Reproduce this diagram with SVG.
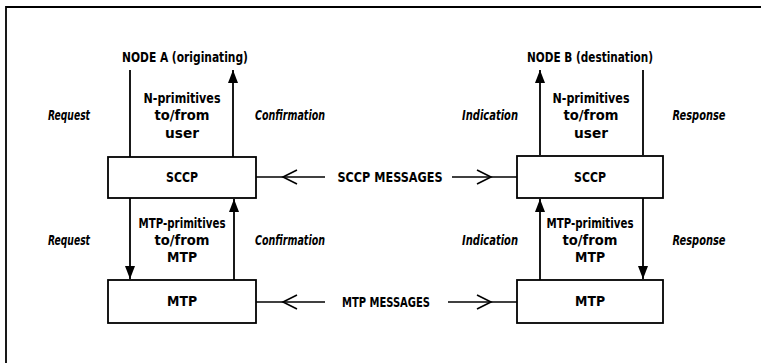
<svg xmlns="http://www.w3.org/2000/svg" width="761" height="363" viewBox="0 0 761 363">
<defs>
<style>
.t{font-family:"DejaVu Sans Condensed","DejaVu Sans",sans-serif;font-weight:bold;font-size:14px;fill:#000;text-anchor:middle}
.i{font-style:italic}
.box{fill:#fff;stroke:#000;stroke-width:1.8}
.ln{fill:none;stroke:#000;stroke-width:1.8}
.msg{fill:none;stroke:#000;stroke-width:1.6}
</style>
<marker id="ah" markerUnits="userSpaceOnUse" markerWidth="14" markerHeight="11" refX="13" refY="5" orient="auto">
<path d="M0,0 L13,5 L0,10 z" fill="#000"/>
</marker>
</defs>
<rect x="0" y="0" width="761" height="363" fill="#fff"/>
<g id="frame">
<path class="ln" d="M6,363 L6,7 L761,7" stroke-width="2"/>
</g>

<g id="connectors">
<path class="ln" d="M130,70 L130,157"/>
<path class="ln" d="M233,157 L233,70" marker-end="url(#ah)"/>
<path class="ln" d="M540,155 L540,70" marker-end="url(#ah)"/>
<path class="ln" d="M643,70 L643,155"/>
<path class="ln" d="M130,198 L130,279" marker-end="url(#ah)"/>
<path class="ln" d="M234,280 L234,199" marker-end="url(#ah)"/>
<path class="ln" d="M540,280 L540,199" marker-end="url(#ah)"/>
<path class="ln" d="M643,198 L643,279" marker-end="url(#ah)"/>
<path class="msg" d="M325,177 L256,177"/>
<polyline class="msg" points="297,170 283,177 297,184"/>
<path class="msg" d="M452,177 L517,177"/>
<polyline class="msg" points="477,170 491,177 477,184"/>
<path class="msg" d="M325,302 L256,302"/>
<polyline class="msg" points="297,295 283,302 297,309"/>
<path class="msg" d="M448,302 L517,302"/>
<polyline class="msg" points="477,295 491,302 477,309"/>
</g>

<g id="node-a-title"><text class="t" x="185" y="62" textLength="126" lengthAdjust="spacingAndGlyphs">NODE A (originating)</text></g>
<g id="node-b-title"><text class="t" x="590" y="62" textLength="126" lengthAdjust="spacingAndGlyphs">NODE B (destination)</text></g>

<g id="node-a-sccp">
<rect class="box" x="108" y="157" width="148" height="41"/>
<text class="t" x="182" y="182" textLength="32" lengthAdjust="spacingAndGlyphs">SCCP</text>
</g>
<g id="node-a-mtp">
<rect class="box" x="108" y="280" width="148" height="43"/>
<text class="t" x="182" y="306" textLength="30" lengthAdjust="spacingAndGlyphs">MTP</text>
</g>
<g id="node-b-sccp">
<rect class="box" x="517" y="156" width="146" height="42"/>
<text class="t" x="590" y="182" textLength="32" lengthAdjust="spacingAndGlyphs">SCCP</text>
</g>
<g id="node-b-mtp">
<rect class="box" x="517" y="280" width="146" height="43"/>
<text class="t" x="590" y="306" textLength="30" lengthAdjust="spacingAndGlyphs">MTP</text>
</g>

<g id="labels">
<text class="t" x="182" y="103" textLength="77" lengthAdjust="spacingAndGlyphs">N-primitives</text>
<text class="t" x="182" y="120" textLength="55" lengthAdjust="spacingAndGlyphs">to/from</text>
<text class="t" x="182" y="138" textLength="34" lengthAdjust="spacingAndGlyphs">user</text>
<text class="t" x="591" y="103" textLength="77" lengthAdjust="spacingAndGlyphs">N-primitives</text>
<text class="t" x="591" y="120" textLength="55" lengthAdjust="spacingAndGlyphs">to/from</text>
<text class="t" x="591" y="138" textLength="34" lengthAdjust="spacingAndGlyphs">user</text>

<text class="t" x="182" y="228" textLength="87" lengthAdjust="spacingAndGlyphs">MTP-primitives</text>
<text class="t" x="182" y="245" textLength="55" lengthAdjust="spacingAndGlyphs">to/from</text>
<text class="t" x="182" y="262" textLength="30" lengthAdjust="spacingAndGlyphs">MTP</text>
<text class="t" x="590" y="228" textLength="87" lengthAdjust="spacingAndGlyphs">MTP-primitives</text>
<text class="t" x="590" y="245" textLength="55" lengthAdjust="spacingAndGlyphs">to/from</text>
<text class="t" x="590" y="262" textLength="30" lengthAdjust="spacingAndGlyphs">MTP</text>

<text class="t i" x="69" y="120" textLength="42" lengthAdjust="spacingAndGlyphs">Request</text>
<text class="t i" x="290" y="120" textLength="70" lengthAdjust="spacingAndGlyphs">Confirmation</text>
<text class="t i" x="490" y="120" textLength="56" lengthAdjust="spacingAndGlyphs">Indication</text>
<text class="t i" x="699" y="120" textLength="53" lengthAdjust="spacingAndGlyphs">Response</text>

<text class="t i" x="69" y="245" textLength="42" lengthAdjust="spacingAndGlyphs">Request</text>
<text class="t i" x="290" y="245" textLength="70" lengthAdjust="spacingAndGlyphs">Confirmation</text>
<text class="t i" x="490" y="245" textLength="56" lengthAdjust="spacingAndGlyphs">Indication</text>
<text class="t i" x="699" y="245" textLength="53" lengthAdjust="spacingAndGlyphs">Response</text>

<text class="t" x="390" y="182" textLength="105" lengthAdjust="spacingAndGlyphs">SCCP MESSAGES</text>
<text class="t" x="386" y="307" textLength="88" lengthAdjust="spacingAndGlyphs">MTP MESSAGES</text>
</g>
</svg>
